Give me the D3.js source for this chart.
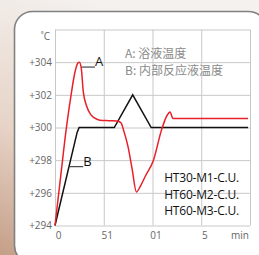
<!DOCTYPE html>
<html>
<head>
<meta charset="utf-8">
<script src="https://cdn.jsdelivr.net/npm/d3@7"></script>
<style>
  body { margin: 0; }
  svg { display: block; }
</style>
</head>
<body>
<div id="chart"></div>
<script>
// data (x in grid steps, y in kelvin)
const xTicks = [0, 1, 2, 3, 3.72]
const xLabels = ['0', '51', '01', '5', 'min']
const yTicks = [294, 296, 298, 300, 302, 304]

const bathX = [0, 0.12, 0.23, 0.33, 0.41, 0.47, 0.5, 0.54, 0.58, 0.65, 0.73, 0.8, 0.92, 1.1, 1.27, 1.35, 1.42, 1.5, 1.58, 1.67, 1.75, 1.85, 2.02, 2.19, 2.3, 2.36, 2.42, 2.5, 3.96]
const bathY = [294, 297.1, 299.9, 302, 303.4, 303.95, 304, 303.6, 302.2, 301.3, 300.8, 300.6, 300.45, 300.42, 300.4, 300.3, 299.7, 298.8, 297.5, 296.05, 296.4, 297.0, 298.0, 299.9, 300.75, 300.95, 300.55, 300.55, 300.55]

const innerX = [0, 0.454, 0.495, 1.216, 1.594, 1.973, 3.96]
const innerY = [294, 299.7, 300, 300, 302, 300, 300]

const legendLines = ['A: 浴液温度', 'B: 内部反应液温度']
const modelLines = ['HT30-M1-C.U.', 'HT60-M2-C.U.', 'HT60-M3-C.U.']

const W = 259, H = 255
const plot = {left: 55, right: 250, top: 29.5, bottom: 225.5}

const svg = d3.select('#chart').append('svg')
    .attr('width', W)
    .attr('height', H)

// backdrop
const defs = svg.append('defs')
const grad = defs.append('linearGradient')
    .attr('id', 'bg')
    .attr('x1', 0).attr('y1', 1).attr('x2', 0.35).attr('y2', 0)
grad.append('stop').attr('offset', '0%').attr('stop-color', '#c59f88')
grad.append('stop').attr('offset', '45%').attr('stop-color', '#e6d3c6')
grad.append('stop').attr('offset', '100%').attr('stop-color', '#f4f1ef')

svg.append('rect')
    .attr('width', W).attr('height', H)
    .attr('fill', 'url(#bg)')

svg.append('rect')
    .attr('x', 14.5).attr('y', 11.5)
    .attr('width', 252).attr('height', 252)
    .attr('rx', 18).attr('ry', 18)
    .attr('fill', '#fff')
    .attr('stroke', '#808080')
    .attr('stroke-width', 1.6)

const x = d3.scaleLinear().domain([0, 4]).range([plot.left, plot.right])
const y = d3.scaleLinear().domain([294, 306]).range([plot.bottom, plot.top])

const font = '"Open Sans", "Noto Sans", sans-serif'

// grid
const grid = svg.append('g')
grid.append('g')
    .attr('transform', `translate(0, ${plot.bottom})`)
    .call(d3.axisBottom(x).tickValues([0, 1, 2, 3, 4]).tickSize(-(plot.bottom - plot.top)).tickFormat(''))
grid.append('g')
    .attr('transform', `translate(${plot.left}, 0)`)
    .call(d3.axisLeft(y).tickValues([294, 296, 298, 300, 302, 304, 306]).tickSize(-(plot.right - plot.left)).tickFormat(''))
grid.selectAll('.domain').remove()
grid.selectAll('line').attr('stroke', '#c8c8c8').attr('stroke-width', 1)

// axes labels
const yAxis = svg.append('g')
    .attr('transform', `translate(${plot.left}, 0)`)
    .call(d3.axisLeft(y).tickValues(yTicks).tickSize(0).tickPadding(3).tickFormat(d => '+' + d))
const xAxis = svg.append('g')
    .attr('transform', `translate(0, ${plot.bottom})`)
    .call(d3.axisBottom(x).tickValues(xTicks).tickSize(0).tickPadding(6).tickFormat((d, i) => xLabels[i]))
svg.selectAll('.domain').remove()
svg.selectAll('.tick text')
    .attr('fill', '#666')
    .style('font-family', font)
    .style('font-size', '10px')
xAxis.selectAll('.tick text').attr('dx', 3)

svg.append('text')
    .attr('x', plot.left - 5)
    .attr('y', y(305.6))
    .attr('dy', '0.35em')
    .attr('text-anchor', 'end')
    .attr('fill', '#666')
    .style('font-family', font)
    .style('font-size', '10px')
    .text('˚C')

// curves
const bath = bathX.map((d, i) => [d, bathY[i]])
const inner = innerX.map((d, i) => [d, innerY[i]])

svg.append('path')
    .datum(inner)
    .attr('fill', 'none')
    .attr('stroke', '#111')
    .attr('stroke-width', 1.5)
    .attr('d', d3.line().x(d => x(d[0])).y(d => y(d[1])))

svg.append('path')
    .datum(bath)
    .attr('fill', 'none')
    .attr('stroke', '#e8202a')
    .attr('stroke-width', 1.5)
    .attr('d', d3.line().curve(d3.curveMonotoneX).x(d => x(d[0])).y(d => y(d[1])))

// A / B callouts
const callouts = [
    {name: 'A', x0: 0.55, x1: 0.82, yv: 303.7},
    {name: 'B', x0: 0.3, x1: 0.58, yv: 297.6}
]
callouts.forEach(c => {
    svg.append('line')
        .attr('x1', x(c.x0)).attr('x2', x(c.x1))
        .attr('y1', y(c.yv)).attr('y2', y(c.yv))
        .attr('stroke', '#222').attr('stroke-width', 1)
    svg.append('text')
        .attr('x', x(c.x1))
        .attr('y', y(c.yv) - 1)
        .attr('fill', '#111')
        .style('font-family', font)
        .style('font-size', '13px')
        .text(c.name)
})

// legend
svg.append('g').selectAll('text')
    .data(legendLines)
    .enter()
    .append('text')
    .attr('x', 125)
    .attr('y', (d, i) => 53.5 + i * 17)
    .attr('dy', '0.35em')
    .attr('fill', '#8a8a8a')
    .style('font-family', '"Noto Sans CJK SC", "Open Sans", sans-serif')
    .style('font-size', '12px')
    .text(d => d)

svg.append('g').selectAll('text')
    .data(modelLines)
    .enter()
    .append('text')
    .attr('x', 239)
    .attr('y', (d, i) => 178 + i * 16.5)
    .attr('dy', '0.35em')
    .attr('text-anchor', 'end')
    .attr('fill', '#111')
    .style('font-family', font)
    .style('font-size', '12px')
    .style('letter-spacing', '-0.2px')
    .text(d => d)
</script>
</body>
</html>
